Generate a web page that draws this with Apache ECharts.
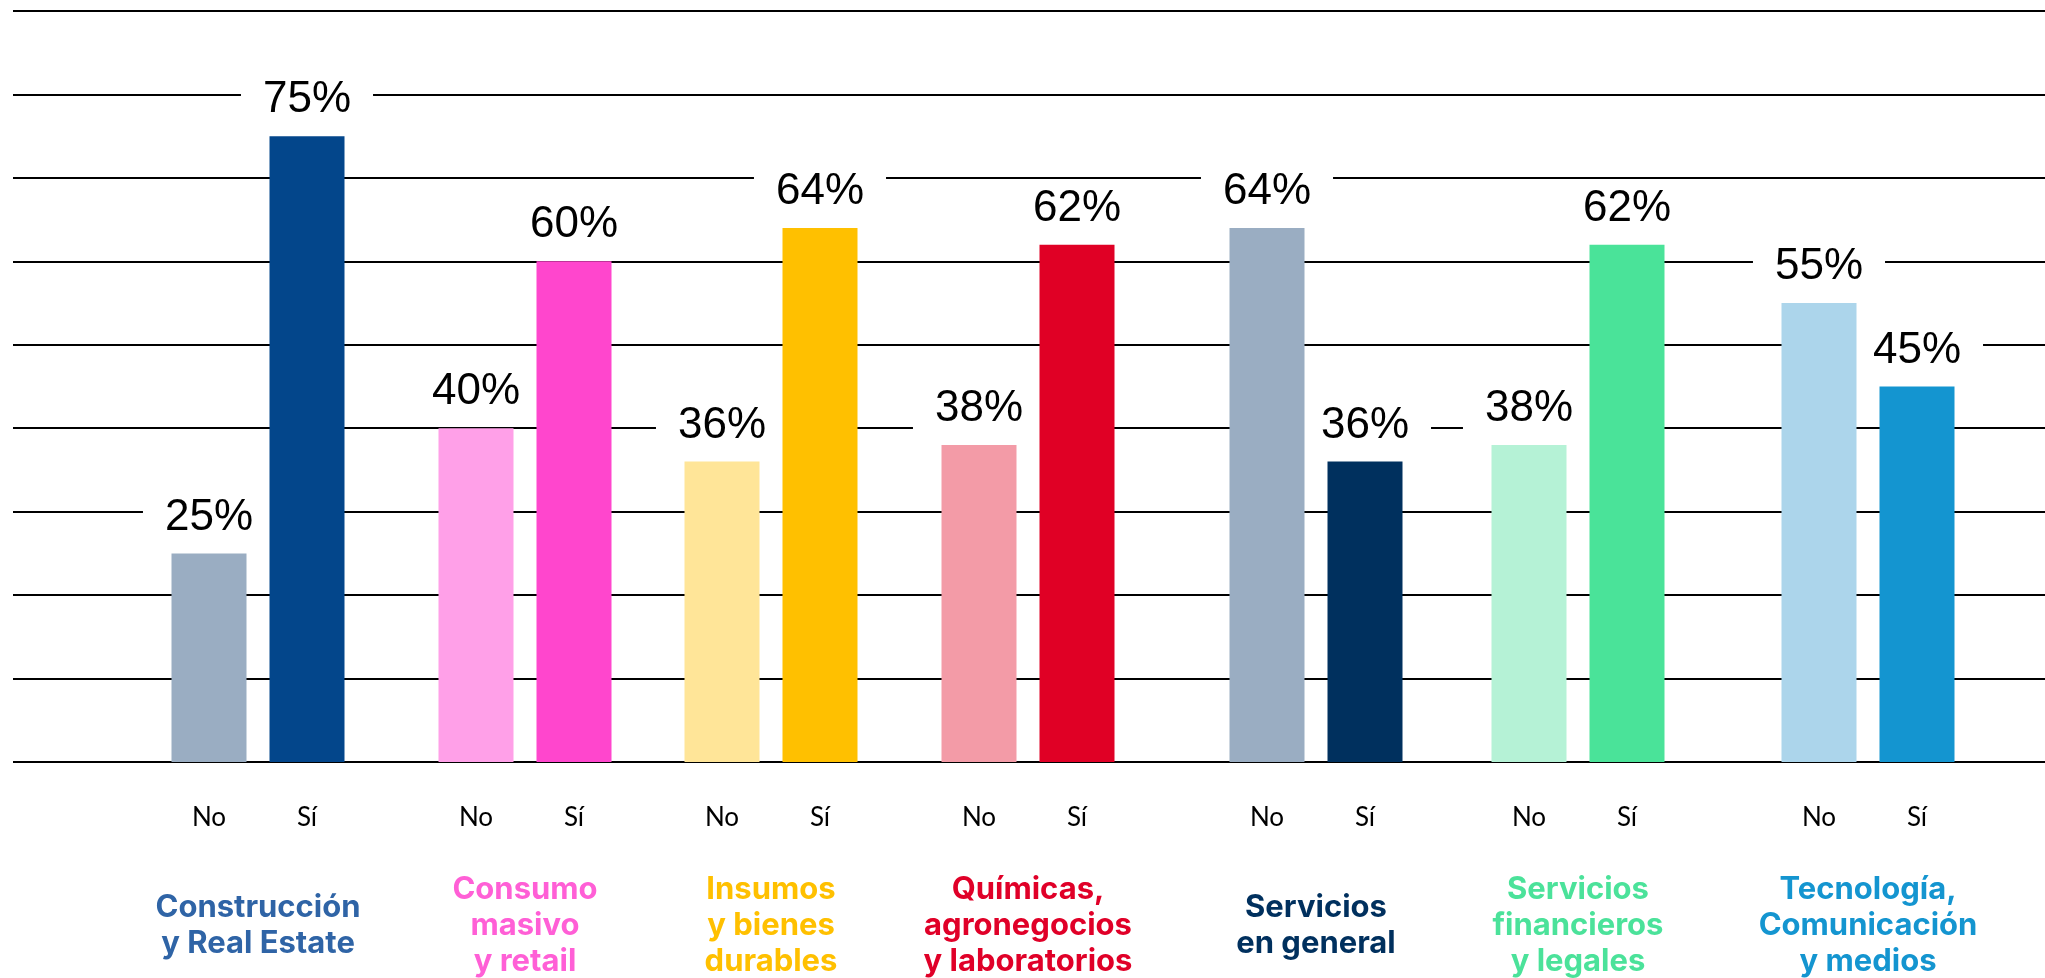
<!DOCTYPE html>
<html>
<head>
<meta charset="utf-8">
<title>No / Sí por industria</title>
<script src="https://cdn.jsdelivr.net/npm/echarts@6/dist/echarts.min.js"></script>
<style>
  html, body { margin: 0; padding: 0; background: #fff; }
  #chart { width: 2045px; height: 978px; }
</style>
</head>
<body>
<div id="chart"></div>
<script>
// datos
const groupNames = [
  'Construcción\ny Real Estate',
  'Consumo\nmasivo\ny retail',
  'Insumos\ny bienes\ndurables',
  'Químicas,\nagronegocios\ny laboratorios',
  'Servicios\nen general',
  'Servicios\nfinancieros\ny legales',
  'Tecnología,\nComunicación\ny medios'
]
const answerLabels = ['No', 'Sí']
const noValues = [25, 40, 36, 38, 64, 38, 55]
const siValues = [75, 60, 64, 62, 36, 62, 45]
const yTicks = [0, 10, 20, 30, 40, 50, 60, 70, 80, 90]

// estilos
const nameColors = ['#2f64a6', '#ff5fd6', '#ffc000', '#e00028', '#00305e', '#4be29a', '#1495d0']
const noColors = ['#9aadc2', '#ffa0e8', '#ffe598', '#f39ba7', '#9aadc2', '#b5f2d6', '#acd5eb']
const siColors = ['#03468b', '#ff46cd', '#ffc000', '#e00025', '#00305e', '#4ae399', '#1495d0']
const groupLeft = [160, 427, 673, 930, 1218, 1480, 1770]

const gridTop = 11
const gridHeight = 751

const chart = echarts.init(document.getElementById('chart'))

const grids = [{ left: 13, right: 0, top: gridTop, height: gridHeight, outerBoundsMode: 'none' }]
const xAxes = [{ gridIndex: 0, type: 'category', data: [], show: false }]
const yAxes = [{
  gridIndex: 0,
  type: 'value',
  min: yTicks[0],
  max: yTicks[yTicks.length - 1],
  interval: yTicks[1] - yTicks[0],
  axisLabel: { show: false },
  axisLine: { show: false },
  axisTick: { show: false },
  splitLine: { lineStyle: { color: '#000', width: 2 } }
}]
const series = []

const pctLabel = {
  show: true,
  position: 'top',
  distance: 12,
  formatter: '{c}%',
  fontSize: 44,
  fontFamily: 'Liberation Sans',
  color: '#000',
  backgroundColor: '#fff',
  padding: [2, 22]
}

groupNames.forEach(function(name, i) {
  const idx = i + 1
  grids.push({ left: groupLeft[i], width: 196, top: gridTop, height: gridHeight, outerBoundsMode: 'none' })
  xAxes.push({
    gridIndex: idx,
    type: 'category',
    data: answerLabels,
    axisLine: { show: false },
    axisTick: { show: false },
    axisLabel: {
      margin: 43,
      fontSize: 26,
      color: '#000',
      fontFamily: 'Lato'
    },
    name: name,
    nameLocation: 'middle',
    nameGap: 164,
    nameTextStyle: {
      color: nameColors[i],
      fontSize: 31,
      fontWeight: 'bold',
      fontFamily: 'Inter',
      lineHeight: 36,
      verticalAlign: 'middle'
    }
  })
  yAxes.push({
    gridIndex: idx,
    type: 'value',
    min: yTicks[0],
    max: yTicks[yTicks.length - 1],
    show: false,
    splitLine: { show: false }
  })
  // la barra más alta va por encima de la etiqueta de la vecina
  const noOnTop = noValues[i] > siValues[i]
  series.push({
    type: 'bar',
    name: 'No',
    xAxisIndex: idx,
    yAxisIndex: idx,
    barWidth: 75,
    barGap: '-100%',
    z: noOnTop ? 4 : 3,
    animation: false,
    itemStyle: { color: noColors[i] },
    data: [noValues[i], '-'],
    label: pctLabel
  })
  series.push({
    type: 'bar',
    name: 'Sí',
    xAxisIndex: idx,
    yAxisIndex: idx,
    barWidth: 75,
    barGap: '-100%',
    z: noOnTop ? 3 : 4,
    animation: false,
    itemStyle: { color: siColors[i] },
    data: ['-', siValues[i]],
    label: pctLabel
  })
})

const option = {
  backgroundColor: '#fff',
  grid: grids,
  xAxis: xAxes,
  yAxis: yAxes,
  series: series
}
chart.setOption(option)
</script>
</body>
</html>
